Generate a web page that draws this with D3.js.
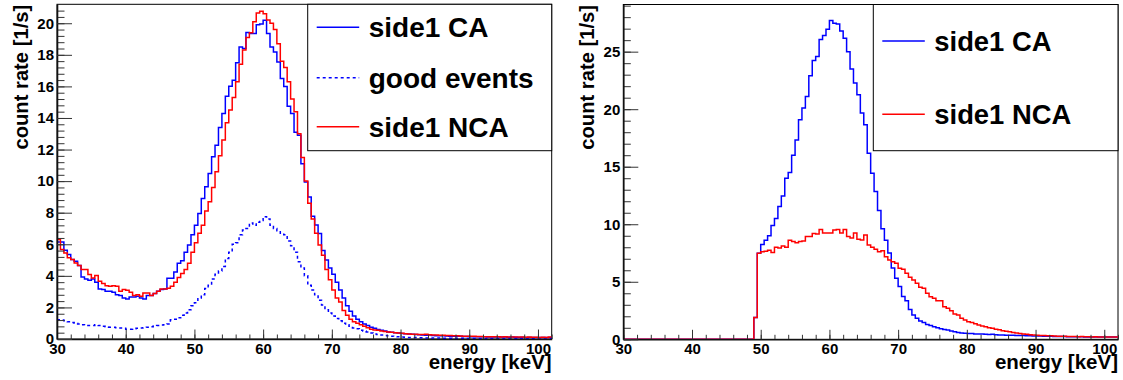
<!DOCTYPE html>
<html>
<head>
<meta charset="utf-8">
<script src="https://cdn.jsdelivr.net/npm/d3@7"></script>
<style>
  html, body { margin: 0; padding: 0; background: #fff; }
  svg { display: block; }
  text { font-family: "Liberation Sans", Arial, Helvetica, sans-serif; font-weight: bold; }
</style>
</head>
<body>
<svg id="chart" width="1123" height="380"></svg>
<script>
// ---------------- DATA ----------------
const BIN_START = 30;      // keV, left edge of first bin
const BIN_WIDTH = 0.5;     // keV
const X_DOMAIN = [30, 102];
const xTickValues = [30, 40, 50, 60, 70, 80, 90, 100];

// Left panel
const leftYTicks = [0, 2, 4, 6, 8, 10, 12, 14, 16, 18, 20];
const leftCA = [
  6.15, 6.15, 5.62, 5.35, 5.03, 4.93, 4.65, 3.93, 3.8, 3.72,
  3.8, 3.59, 3.17, 3.13, 3.02, 3.02, 2.96, 2.81, 2.75, 2.6,
  2.54, 2.66, 2.66, 2.7, 2.6, 2.54, 2.75, 2.75, 2.88, 3.02,
  3.13, 3.17, 3.85, 3.85, 4.25, 4.8, 4.95, 5.5, 5.95, 6.6,
  7.2, 7.95, 8.9, 9.64, 10.49, 11.54, 12.28, 13.4, 14.28, 15.38,
  16.01, 16.39, 17.49, 18.5, 18.4, 19.41, 19.35, 19.35, 19.9, 19.95,
  20.19, 19.35, 18.5, 18.18, 17.55, 16.5, 16.0, 14.75, 14.28, 13.1,
  12.9, 11.1, 9.95, 9.0, 7.78, 7.22, 6.68, 5.6, 5.0, 4.5,
  4.1, 3.6, 3.1, 2.6, 2.1, 1.75, 1.45, 1.25, 1.1, 0.95,
  0.85, 0.75, 0.68, 0.6, 0.55, 0.5, 0.45, 0.42, 0.4, 0.38,
  0.35, 0.33, 0.32, 0.3, 0.28, 0.27, 0.25, 0.24, 0.25, 0.22,
  0.21, 0.2, 0.2, 0.19, 0.18, 0.18, 0.17, 0.17, 0.16, 0.16,
  0.15, 0.15, 0.14, 0.15, 0.14, 0.13, 0.13, 0.12, 0.13, 0.12,
  0.12, 0.11, 0.12, 0.11, 0.1, 0.11, 0.1, 0.1, 0.1, 0.09,
  0.1, 0.09, 0.09, 0.09
];
const leftGood = [
  1.22, 1.2, 1.15, 1.1, 1.05, 1.0, 0.95, 0.9, 0.85, 0.85,
  0.85, 0.9, 0.85, 0.8, 0.78, 0.75, 0.75, 0.72, 0.7, 0.68,
  0.62, 0.62, 0.65, 0.68, 0.7, 0.72, 0.75, 0.78, 0.82, 0.85,
  0.88, 0.9, 0.95, 1.22, 1.25, 1.35, 1.5, 1.65, 1.85, 2.1,
  2.3, 2.6, 2.8, 3.2, 3.4, 3.8, 4.1, 4.3, 4.6, 5.1,
  5.5, 6.0, 6.1, 6.6, 6.9, 7.0, 7.35, 7.2, 7.4, 7.5,
  7.75, 7.6, 7.2, 7.0, 6.85, 6.7, 6.6, 6.2, 5.9, 5.5,
  4.9, 4.5, 4.0, 3.4, 3.1, 2.8, 2.45, 2.15, 1.85, 1.65,
  1.45, 1.3, 1.15, 1.0, 0.9, 0.8, 0.7, 0.65, 0.55, 0.5,
  0.45, 0.38, 0.32, 0.28, 0.25, 0.22, 0.2, 0.18, 0.15, 0.14,
  0.12, 0.11, 0.1, 0.1, 0.09, 0.08, 0.08, 0.07, 0.07, 0.06,
  0.06, 0.06, 0.05, 0.05, 0.05, 0.04, 0.04, 0.04, 0.04, 0.03,
  0.03, 0.03, 0.03, 0.03, 0.02, 0.03, 0.02, 0.02, 0.02, 0.02,
  0.02, 0.02, 0.02, 0.02, 0.01, 0.02, 0.01, 0.01, 0.01, 0.01,
  0.01, 0.01, 0.01, 0.01
];
const leftNCA = [
  6.3, 5.67, 5.45, 5.14, 5.03, 4.82, 4.65, 4.4, 4.4, 4.08,
  3.87, 4.02, 3.66, 3.51, 3.38, 3.34, 3.38, 3.34, 3.02, 3.13,
  3.09, 2.96, 2.75, 2.81, 2.7, 2.92, 2.92, 2.75, 2.88, 3.02,
  3.17, 3.17, 3.21, 3.34, 3.6, 3.9, 4.15, 4.4, 4.8, 5.5,
  6.1, 6.7, 7.2, 8.1, 8.7, 9.6, 10.6, 11.6, 12.6, 13.7,
  14.5, 15.3, 16.3, 17.4, 18.3, 19.1, 19.4, 20.1, 20.65, 20.76,
  20.6, 20.2, 20.0, 19.6, 18.7, 17.6, 17.2, 16.3, 15.2, 14.4,
  13.0, 11.5, 10.0, 8.6, 7.6, 6.7, 5.95, 5.3, 4.4, 3.75,
  3.1, 2.6, 2.35, 1.8, 1.5, 1.25, 1.1, 1.0, 0.9, 0.8,
  0.72, 0.62, 0.57, 0.55, 0.5, 0.48, 0.45, 0.42, 0.4, 0.38,
  0.36, 0.34, 0.32, 0.3, 0.3, 0.28, 0.28, 0.3, 0.27, 0.26,
  0.25, 0.24, 0.24, 0.22, 0.22, 0.2, 0.2, 0.19, 0.18, 0.18,
  0.17, 0.17, 0.16, 0.16, 0.15, 0.15, 0.14, 0.15, 0.14, 0.13,
  0.14, 0.13, 0.12, 0.13, 0.12, 0.12, 0.11, 0.12, 0.11, 0.11,
  0.1, 0.11, 0.1, 0.12
];

// Right panel
const rightYTicks = [0, 5, 10, 15, 20, 25];
const rightCA = [
  0, 0, 0, 0, 0, 0, 0, 0, 0, 0,
  0, 0, 0, 0, 0, 0, 0, 0, 0, 0,
  0, 0, 0, 0, 0, 0, 0, 0, 0, 0,
  0, 0, 0, 0, 0, 0, 0, 0, 1.9, 7.48,
  8.25, 8.6, 9.0, 9.9, 10.5, 11.55, 12.45, 13.99, 14.5, 16.0,
  17.33, 19.08, 20.1, 21.1, 22.9, 24.23, 24.58, 26.05, 26.4, 26.95,
  27.7, 27.47, 27.41, 26.8, 26.17, 25.0, 23.5, 22.27, 21.26, 19.66,
  18.65, 16.17, 14.43, 12.84, 11.2, 9.6, 8.6, 7.5, 6.2, 5.3,
  4.58, 3.71, 3.35, 2.58, 2.11, 1.82, 1.6, 1.45, 1.28, 1.2,
  1.1, 1.0, 0.92, 0.85, 0.8, 0.72, 0.65, 0.6, 0.55, 0.52,
  0.5, 0.5, 0.47, 0.46, 0.45, 0.44, 0.42, 0.43, 0.4, 0.38,
  0.38, 0.36, 0.35, 0.36, 0.33, 0.34, 0.32, 0.3, 0.3, 0.29,
  0.28, 0.28, 0.27, 0.26, 0.26, 0.25, 0.25, 0.24, 0.25, 0.23,
  0.23, 0.22, 0.22, 0.23, 0.21, 0.21, 0.2, 0.21, 0.2, 0.2,
  0.19, 0.2, 0.19, 0.2
];
const rightNCA = [
  0, 0, 0, 0, 0, 0, 0, 0, 0, 0,
  0, 0, 0, 0, 0, 0, 0, 0, 0, 0,
  0, 0, 0, 0, 0, 0, 0, 0, 0, 0,
  0, 0, 0, 0, 0, 0, 0, 0, 1.9, 7.48,
  7.6, 7.65, 7.74, 7.54, 8.0, 7.94, 8.1, 8.0, 8.6, 8.5,
  8.4, 8.5, 8.55, 8.93, 8.93, 9.2, 9.15, 9.55, 9.25, 9.25,
  9.25, 9.5, 9.55, 9.25, 9.55, 8.93, 8.8, 9.25, 8.7, 8.63,
  9.07, 8.2, 8.0, 7.82, 7.62, 7.7, 7.18, 6.9, 6.75, 6.6,
  6.17, 6.08, 5.74, 5.39, 5.16, 4.87, 4.52, 4.43, 4.0, 3.7,
  3.56, 3.36, 3.36, 2.84, 2.69, 2.49, 2.2, 2.11, 1.82, 1.68,
  1.53, 1.45, 1.35, 1.25, 1.15, 1.1, 1.0, 0.95, 0.88, 0.82,
  0.75, 0.7, 0.65, 0.6, 0.55, 0.5, 0.47, 0.44, 0.4, 0.38,
  0.36, 0.34, 0.32, 0.31, 0.3, 0.28, 0.27, 0.27, 0.26, 0.25,
  0.25, 0.24, 0.23, 0.24, 0.22, 0.22, 0.21, 0.22, 0.2, 0.21,
  0.2, 0.2, 0.19, 0.2
];

const xTitle = "energy [keV]";
const yTitle = "count rate [1/s]";

// ---------------- DRAWING ----------------
const svg = d3.select("#chart");
svg.append("rect").attr("width", 1123).attr("height", 380).attr("fill", "#fff");

const BLUE = "#0000ff", RED = "#ff0000";

function drawPanel(cfg, id) {
  const { x0, x1, y0, y1 } = cfg.frame;
  const x = d3.scaleLinear().domain(X_DOMAIN).range([x0, x1]);
  const y = d3.scaleLinear().domain([0, cfg.yMax]).range([y1, y0]);
  const g = svg.append("g");

  g.append("clipPath").attr("id", "clip" + id)
    .append("rect").attr("x", x0).attr("y", y0).attr("width", x1 - x0).attr("height", y1 - y0);

  // frame
  g.append("rect").attr("x", x0).attr("y", y0).attr("width", x1 - x0).attr("height", y1 - y0)
    .attr("fill", "none").attr("stroke", "#000").attr("stroke-width", 1);

  // histograms
  const line = d3.line().x(d => x(d.e)).y(d => y(d.v)).curve(d3.curveStepAfter);
  const plot = g.append("g").attr("clip-path", `url(#clip${id})`);
  cfg.series.forEach(s => {
    const pts = s.values.map((v, i) => ({ e: BIN_START + i * BIN_WIDTH, v }));
    pts.push({ e: BIN_START + s.values.length * BIN_WIDTH, v: s.values[s.values.length - 1] });
    plot.append("path").attr("d", line(pts)).attr("fill", "none")
      .attr("stroke", s.color).attr("stroke-width", 1.5)
      .attr("stroke-dasharray", s.dash || null);
  });

  // x axis (ticks inside)
  const xMinor = d3.range(30, 102.001, 2);
  g.append("g").attr("transform", `translate(0,${y1})`)
    .call(d3.axisBottom(x).tickValues(xMinor).tickSize(-4.5).tickSizeOuter(0).tickFormat(""))
    .call(a => a.select(".domain").remove())
    .call(a => a.selectAll("line").attr("stroke", "#333"));
  g.append("g").attr("transform", `translate(0,${y1})`)
    .call(d3.axisBottom(x).tickValues(xTickValues).tickSize(-9.5).tickSizeOuter(0).tickPadding(4).tickFormat(d3.format("d")))
    .call(a => a.select(".domain").attr("stroke", "#111").attr("stroke-width", 1.6))
    .call(a => a.selectAll("line").attr("stroke", "#333"))
    .call(a => a.selectAll("text").attr("fill", "#000").attr("font-size", 15)
      .style("font-family", '"Liberation Sans", Arial, sans-serif').style("font-weight", "bold"));

  // y axis (ticks inside)
  const yMinor = d3.range(0, cfg.yMax, cfg.yMinorStep);
  g.append("g").attr("transform", `translate(${x0},0)`)
    .call(d3.axisLeft(y).tickValues(yMinor).tickSize(-7.5).tickSizeOuter(0).tickFormat(""))
    .call(a => a.select(".domain").remove())
    .call(a => a.selectAll("line").attr("stroke", "#333"));
  g.append("g").attr("transform", `translate(${x0},0)`)
    .call(d3.axisLeft(y).tickValues(cfg.yTicks).tickSize(-15).tickSizeOuter(0).tickPadding(3).tickFormat(d3.format("d")))
    .call(a => a.select(".domain").attr("stroke", "#111").attr("stroke-width", 1.6))
    .call(a => a.selectAll("line").attr("stroke", "#333"))
    .call(a => a.selectAll("text").attr("fill", "#000").attr("font-size", 15)
      .style("font-family", '"Liberation Sans", Arial, sans-serif').style("font-weight", "bold"));

  // titles
  g.append("text").attr("x", x1).attr("y", 368.5).attr("text-anchor", "end")
    .attr("font-size", 20.5).text(xTitle);
  g.append("text").attr("transform", `translate(${x0 - 29.5},${y0 + 0.5}) rotate(-90)`)
    .attr("text-anchor", "end").attr("font-size", 20.2).text(yTitle);

  // legend
  const L = cfg.legend;
  g.append("rect").attr("x", L.x).attr("y", y0).attr("width", x1 - L.x).attr("height", L.bottom - y0)
    .attr("fill", "#fff").attr("stroke", "#000").attr("stroke-width", 1);
  L.entries.forEach((en, i) => {
    const ly = L.ys[i];
    g.append("line").attr("x1", L.x + 9).attr("x2", L.x + 51.5).attr("y1", ly).attr("y2", ly)
      .attr("stroke", en.color).attr("stroke-width", 1.5).attr("stroke-dasharray", en.dash || null);
    g.append("text").attr("x", L.x + 61).attr("y", ly + 10).attr("font-size", cfg.legendFont).attr("fill", "#000").text(en.label);
  });
}

drawPanel({
  frame: { x0: 57, x1: 551.7, y0: 4.3, y1: 339 },
  yMax: 21.2, yTicks: leftYTicks, yMinorStep: 0.4, legendFont: 28,
  series: [
    { values: leftCA, color: BLUE },
    { values: leftGood, color: BLUE, dash: "3,3" },
    { values: leftNCA, color: RED }
  ],
  legend: {
    x: 307.7, bottom: 150.7, ys: [27.3, 77.7, 126.7],
    entries: [
      { label: "side1 CA", color: BLUE },
      { label: "good events", color: BLUE, dash: "3,3" },
      { label: "side1 NCA", color: RED }
    ]
  }
}, "L");

drawPanel({
  frame: { x0: 623.3, x1: 1118, y0: 4.5, y1: 339.3 },
  yMax: 29.1, yTicks: rightYTicks, yMinorStep: 1, legendFont: 27.4,
  series: [
    { values: rightCA, color: BLUE },
    { values: rightNCA, color: RED }
  ],
  legend: {
    x: 873.3, bottom: 150.7, ys: [41, 114.3],
    entries: [
      { label: "side1 CA", color: BLUE },
      { label: "side1 NCA", color: RED }
    ]
  }
}, "R");
</script>
</body>
</html>
